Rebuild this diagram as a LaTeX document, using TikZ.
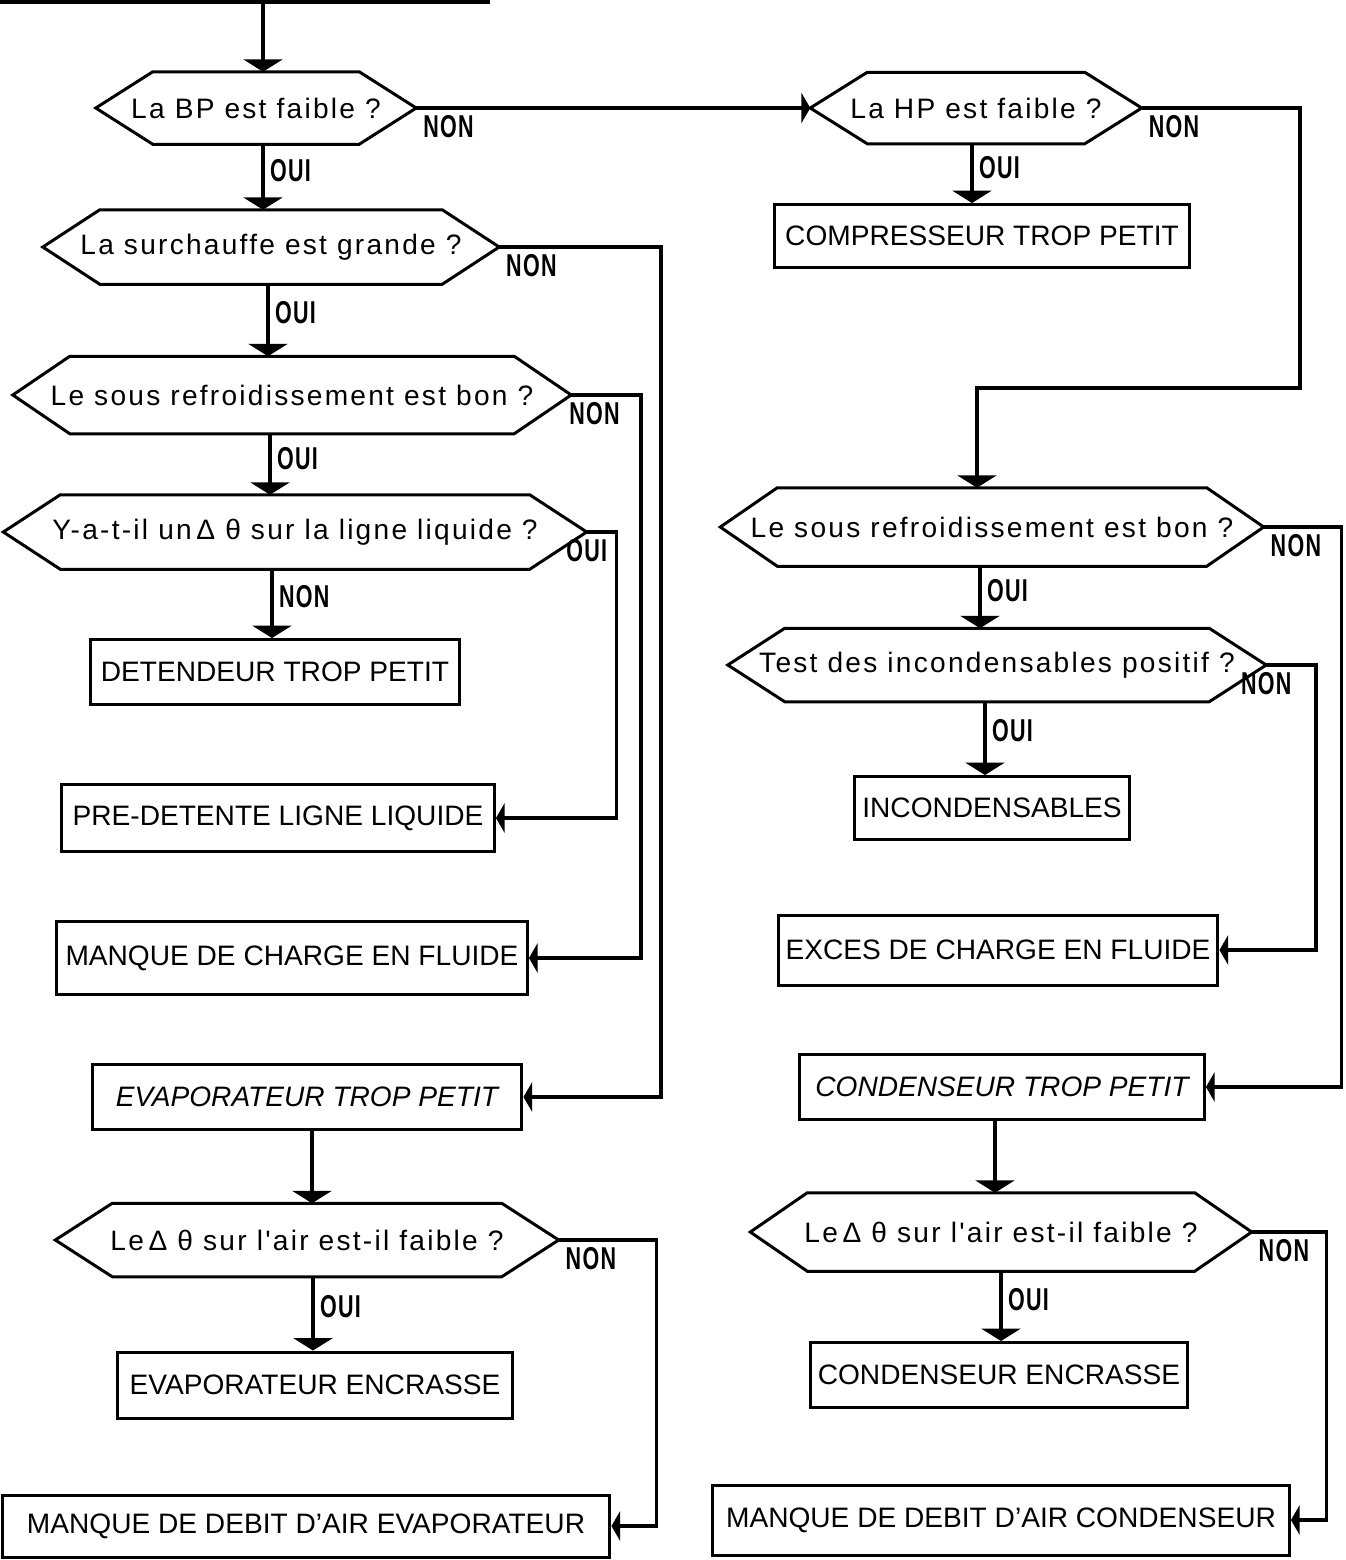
\documentclass[tikz,border=0pt]{standalone}
\usepackage{fontspec}
\setmainfont{Liberation Sans}
\newfontfamily\qfont{Liberation Sans}[LetterSpace=8]
\newfontfamily\labfont{Liberation Sans}[FakeStretch=0.68,LetterSpace=4]
\usetikzlibrary{arrows.meta}

\begin{document}
\begin{tikzpicture}[x=0.02cm, y=-0.02cm, line width=2pt,
    font=\fontsize{16}{19}\selectfont,
    box/.style={draw, line width=1.7pt, inner sep=0pt},
    quest/.style={inner sep=0pt, font=\fontsize{16}{19}\selectfont\qfont},
    lab/.style={font=\fontsize{18}{21}\selectfont\labfont\bfseries, inner sep=3pt},
    flow/.style={-{Triangle[width=22pt,length=7pt]}},
    side/.style={-{Triangle[width=17pt,length=5pt]}}]
  \useasboundingbox (0,0) rectangle (1346,1560);

  % left column
  \node[quest, minimum width=6.34cm, minimum height=1.38cm] (bp) at (256,108) {La BP est faible ?};
  \node[quest, minimum width=9.06cm, minimum height=1.42cm] (surch) at (271,247) {La surchauffe est grande ?};
  \node[quest, minimum width=11.1cm, minimum height=1.48cm] (sousL) at (292,395) {Le sous refroidissement est bon ?};
  \node[quest, minimum width=11.6cm, minimum height=1.42cm] (ylig) at (295,532) {Y-a-t-il un\,Δ θ sur la ligne liquide ?};
  \node[box, minimum width=7.4cm, minimum height=1.3cm] (detend) at (275,672) {DETENDEUR TROP PETIT};
  \node[box, minimum width=8.66cm, minimum height=1.34cm] (predet) at (278,818) {PRE-DETENTE LIGNE LIQUIDE};
  \node[box, minimum width=9.42cm, minimum height=1.46cm] (manqch) at (292,958) {MANQUE DE CHARGE EN FLUIDE};
  \node[box, minimum width=8.6cm, minimum height=1.3cm, font=\fontsize{16}{19}\selectfont\itshape] (evtp) at (307,1097) {EVAPORATEUR TROP PETIT};
  \node[quest, minimum width=10cm, minimum height=1.4cm] (airL) at (307,1240) {Le\,Δ θ sur l'air est-il faible ?};
  \node[box, minimum width=7.92cm, minimum height=1.32cm] (evenc) at (315,1385) {EVAPORATEUR ENCRASSE};
  \node[box, minimum width=12.16cm, minimum height=1.24cm] (mdae) at (306,1526) {MANQUE DE DEBIT D'AIR EVAPORATEUR};

  % right column
  \node[quest, minimum width=6.56cm, minimum height=1.36cm] (hp) at (976,108) {La HP est faible ?};
  \node[box, minimum width=8.3cm, minimum height=1.26cm] (comp) at (982,236) {COMPRESSEUR TROP PETIT};
  \node[quest, minimum width=10.8cm, minimum height=1.5cm] (sousR) at (992,527) {Le sous refroidissement est bon ?};
  \node[quest, minimum width=10.7cm, minimum height=1.4cm] (test) at (997,665) {Test des incondensables positif ?};
  \node[box, minimum width=5.5cm, minimum height=1.26cm] (incond) at (992,808) {INCONDENSABLES};
  \node[box, minimum width=8.8cm, minimum height=1.4cm] (exces) at (998,950) {EXCES DE CHARGE EN FLUIDE};
  \node[box, minimum width=8.1cm, minimum height=1.3cm, font=\fontsize{16}{19}\selectfont\itshape] (ctp) at (1002,1087) {CONDENSEUR TROP PETIT};
  \node[quest, minimum width=9.96cm, minimum height=1.5cm] (airR) at (1001,1232) {Le\,Δ θ sur l'air est-il faible ?};
  \node[box, minimum width=7.56cm, minimum height=1.3cm] (cenc) at (999,1375) {CONDENSEUR ENCRASSE};
  \node[box, minimum width=11.54cm, minimum height=1.4cm] (mdac) at (1001,1520) {MANQUE DE DEBIT D'AIR CONDENSEUR};

  % hexagons
  \foreach \n in {bp,surch,sousL,ylig,airL,hp,sousR,test,airR}
    \draw[line width=1.7pt] (\n.west) -- ([xshift=1.14cm]\n.north west) -- ([xshift=-1.14cm]\n.north east)
      -- (\n.east) -- ([xshift=-1.14cm]\n.south east) -- ([xshift=1.14cm]\n.south west) -- cycle;

  % connectors
  \coordinate (top) at (263,2);
  \draw (0,2) -- (490,2);
  \draw[flow] (top) -- (top |- bp.north);
  \draw[flow] ([xshift=0.14cm]bp.south) -- node[lab,right,pos=0.4]{OUI} ([xshift=0.14cm]bp.south |- surch.north);
  \draw[flow] ([xshift=-0.06cm]surch.south) -- node[lab,right,pos=0.4]{OUI} ([xshift=-0.06cm]surch.south |- sousL.north);
  \draw[flow] ([xshift=-0.44cm]sousL.south) -- node[lab,right,pos=0.4]{OUI} ([xshift=-0.44cm]sousL.south |- ylig.north);
  \draw[flow] ([xshift=-0.46cm]ylig.south) -- node[lab,right,pos=0.4]{NON} ([xshift=-0.46cm]ylig.south |- detend.north);
  \draw[flow] ([xshift=0.1cm]evtp.south) -- ([xshift=0.1cm]evtp.south |- airL.north);
  \draw[flow] ([xshift=0.12cm]airL.south) -- node[lab,right,pos=0.4]{OUI} ([xshift=0.12cm]airL.south |- evenc.north);

  \draw[side] (bp.east) node[lab,below right]{NON} -- (hp.west);
  \draw[side] (surch.east) node[lab,below right]{NON} -- ++(162,0) |- (evtp.east);
  \draw[side] (sousL.east) node[lab,below right,xshift=-5pt]{NON} -- ++(70,0) |- (manqch.east);
  \draw[side] (ylig.east) node[lab,below]{OUI} -- ++(30,0) |- (predet.east);
  \draw[side] (airL.east) node[lab,below right]{NON} -- ++(98,0) |- (mdae.east);

  \draw[flow] ([xshift=-0.08cm]hp.south) -- node[lab,right,pos=0.4]{OUI} ([xshift=-0.08cm]hp.south |- comp.north);
  \coordinate (hpturn) at (1300,388);
  \draw[flow] (hp.east) node[lab,below right]{NON} -| (hpturn) -| ([xshift=-0.3cm]sousR.north);
  \draw[flow] ([xshift=-0.24cm]sousR.south) -- node[lab,right,pos=0.4]{OUI} ([xshift=-0.24cm]sousR.south |- test.north);
  \draw[flow] ([xshift=-0.24cm]test.south) -- node[lab,right,pos=0.4]{OUI} ([xshift=-0.24cm]test.south |- incond.north);
  \draw[flow] ([xshift=-0.14cm]ctp.south) -- ([xshift=-0.14cm]ctp.south |- airR.north);
  \draw[flow] (airR.south) -- node[lab,right,pos=0.4]{OUI} (airR.south |- cenc.north);

  \draw[side] (sousR.east) node[lab,below right]{NON} -- ++(78,0) |- (ctp.east);
  \draw[side] (test.east) node[lab,below]{NON} -- ++(50,0) |- (exces.east);
  \draw[side] (airR.east) node[lab,below right]{NON} -- ++(75,0) |- (mdac.east);
\end{tikzpicture}
\end{document}
